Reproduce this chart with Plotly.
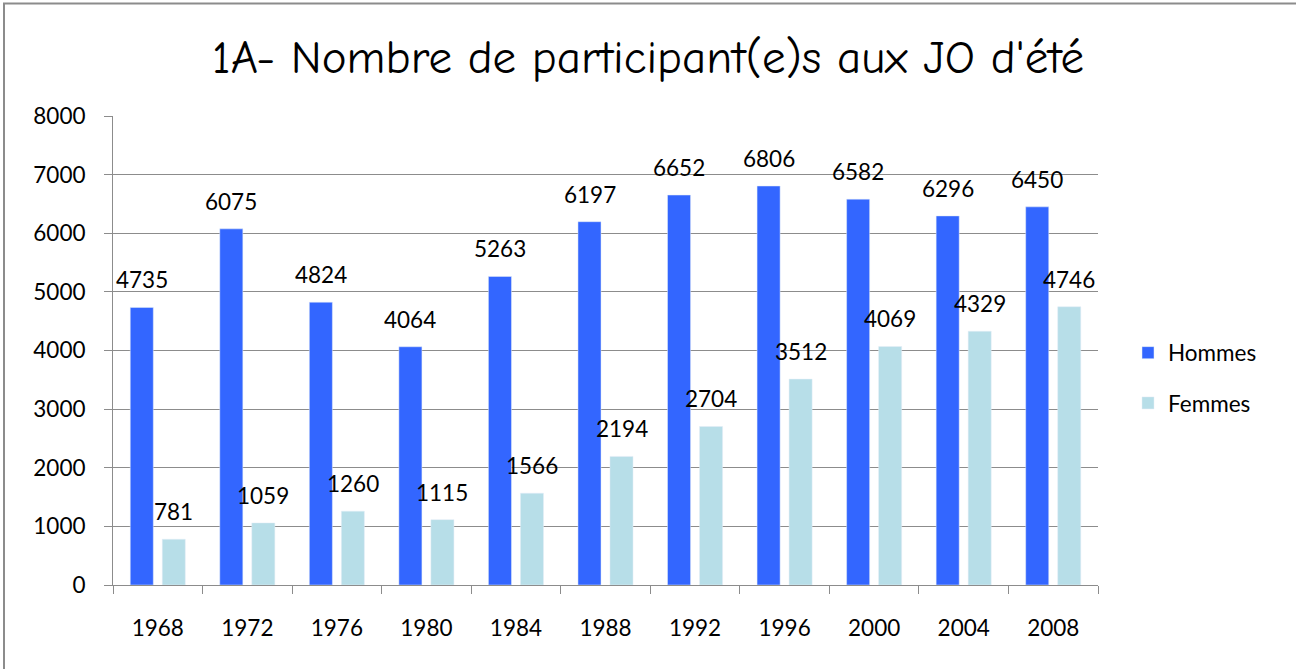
import plotly.graph_objects as go

years = ["1968", "1972", "1976", "1980", "1984", "1988", "1992", "1996", "2000", "2004", "2008"]
hommes = [4735, 6075, 4824, 4064, 5263, 6197, 6652, 6806, 6582, 6296, 6450]
femmes = [781, 1059, 1260, 1115, 1566, 2194, 2704, 3512, 4069, 4329, 4746]
y_ticks = [0, 1000, 2000, 3000, 4000, 5000, 6000, 7000, 8000]

W, H = 1296, 669
L, R, T, B = 113, 198, 116, 84
pw, ph = W - L - R, H - T - B

fig = go.Figure()
fig.add_trace(go.Bar(name="Hommes", x=years, y=hommes, marker_color="#3366FF", legendgroup="h"))
fig.add_trace(go.Bar(name="Femmes", x=years, y=femmes, marker_color="#B7DEE8", legendgroup="f"))

FONT = "Lato, Carlito, sans-serif"
lab_font = dict(family=FONT, size=22.5, color="#000000")
for xs, vals in ((-16, hommes), (16, femmes)):
    for i, v in enumerate(vals):
        fig.add_annotation(x=i, y=v, text=str(v), showarrow=False, xref="x", yref="y",
                           xshift=xs, yshift=12, yanchor="bottom", font=lab_font)

fig.add_shape(type="rect", xref="paper", yref="paper",
              x0=(4 - L) / pw, x1=(1310 - L) / pw, y0=(H - B - 690) / ph, y1=(H - B - 3.5) / ph,
              line=dict(color="#8c8c8c", width=2), fillcolor="rgba(0,0,0,0)", layer="below")

fig.update_layout(
    width=W, height=H,
    margin=dict(l=L, r=R, t=T, b=B),
    paper_bgcolor="white", plot_bgcolor="white",
    barmode="group", bargap=0.285, bargroupgap=0.28,
    title=dict(text="1A- Nombre de participant(e)s aux JO d'été", x=0.5, xref="container",
               xanchor="center", y=1 - 57 / H, yanchor="middle",
               font=dict(family="Comic Sans MS, Comic Neue, Lato, sans-serif", size=47, color="#000000")),
    legend=dict(x=(1128 - L) / pw, y=(H - B - 378) / ph, xanchor="left", yanchor="middle",
                font=dict(family=FONT, size=22.5, color="#000000"),
                itemwidth=30, tracegroupgap=18, traceorder="grouped", bgcolor="rgba(0,0,0,0)"),
    showlegend=True,
)
fig.update_xaxes(type="category", showline=True, linecolor="#8c8c8c", linewidth=1,
                 ticks="outside", tickson="boundaries", ticklen=8, tickcolor="#8c8c8c",
                 tickfont=dict(family=FONT, size=22.5, color="#000000"),
                 ticklabelstandoff=23, showgrid=False, automargin=False, tickangle=0)
fig.update_yaxes(range=[0, 8000], tickvals=y_ticks, showline=True, linecolor="#8c8c8c", linewidth=1,
                 ticks="outside", ticklen=8, tickcolor="#8c8c8c",
                 gridcolor="#8c8c8c", gridwidth=1, zeroline=False, automargin=False,
                 tickfont=dict(family=FONT, size=22.5, color="#000000"),
                 ticklabelstandoff=14)

fig.write_html("out.html", config={"displayModeBar": False},
               post_script="document.body.style.margin='0';document.body.style.padding='0';")
